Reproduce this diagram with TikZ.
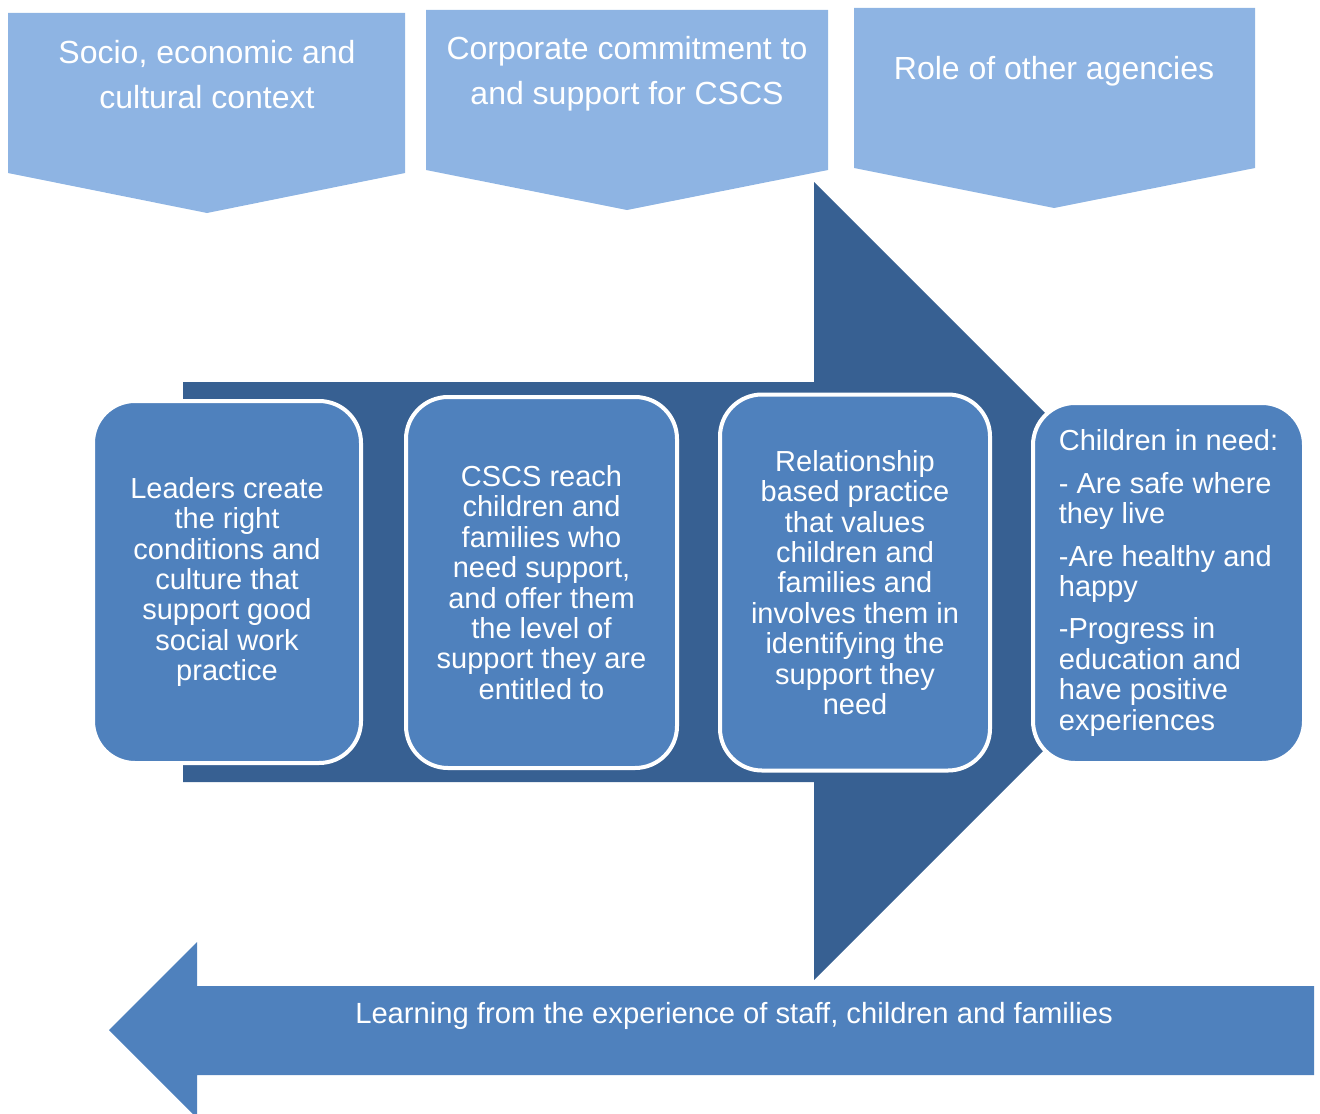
\documentclass[tikz,border=0pt]{standalone}
\usepackage{fontspec}
\setmainfont{Liberation Sans}

\definecolor{chevfill}{HTML}{8EB4E3}
\definecolor{flowfill}{HTML}{376092}
\definecolor{stagefill}{HTML}{4F81BD}

\tikzset{
  chevron/.style={fill=chevfill, draw=none},
  heading/.style={text=white, align=center, inner sep=0pt,
    font=\fontsize{16}{22.5}\selectfont},
  flowarrow/.style={fill=flowfill, draw=none},
  backarrow/.style={fill=stagefill, draw=none},
  stagebox/.style={rectangle, rounded corners=21pt, fill=stagefill,
    draw=white, line width=2pt, text=white, inner sep=0pt,
    font=\fontsize{14.5}{15.2}\selectfont},
  backlabel/.style={text=white, inner sep=0pt,
    font=\fontsize{14.6}{17}\selectfont},
}

\begin{document}
\begin{tikzpicture}[x=0.5pt, y=-0.5pt]
\useasboundingbox (0,0) rectangle (1320,1113);

% context chevrons along the top
\fill[chevron] (8,13) -- (405,13) -- (405,173) -- (207,213) -- (8,173) -- cycle;
\fill[chevron] (426,10) -- (828,10) -- (828,170) -- (627,210) -- (426,170) -- cycle;
\fill[chevron] (854,8) -- (1255,8) -- (1255,168) -- (1054,208) -- (854,168) -- cycle;

\node[heading] (ctx) at (207,74.5) {Socio, economic and\\cultural context};
\node[heading] (corp) at (627,73.5) {Corporate commitment to\\and support for CSCS};
\node[heading] (agency) at (1054,71) {Role of other agencies};

% main flow arrow
\fill[flowarrow] (183,382) -- (814,382) -- (814,182) -- (1213,581)
  -- (814,980) -- (814,782) -- (183,782) -- cycle;

% stages of practice
\node[stagebox, minimum width=134pt, minimum height=181pt, align=center]
  (lead) at (227,582)
  {Leaders create\\the right\\conditions and\\culture that\\support good\\social work\\practice};
\node[stagebox, minimum width=135.5pt, minimum height=185.5pt, align=center]
  (reach) at (541.5,582.5)
  {CSCS reach\\children and\\families who\\need support,\\and offer them\\the level of\\support they are\\entitled to};
\node[stagebox, minimum width=135pt, minimum height=188pt, align=center]
  (relate) at (855,582.5)
  {Relationship\\based practice\\that values\\children and\\families and\\involves them in\\identifying the\\support they\\need};
\node[stagebox, minimum width=135.5pt, minimum height=180pt, align=left]
  (outcome) at (1168.5,583)
  {Children in need:\\[6pt]- Are safe where\\they live\\[6pt]-Are healthy and\\happy\\[6pt]-Progress in\\education and\\have positive\\experiences};

% feedback arrow along the bottom
\fill[backarrow] (109,1030) -- (197,942) -- (197,986) -- (1314,986)
  -- (1314,1075) -- (197,1075) -- (197,1118) -- cycle;
\node[backlabel] (learn) at (734,1016)
  {Learning from the experience of staff, children and families};
\end{tikzpicture}
\end{document}
